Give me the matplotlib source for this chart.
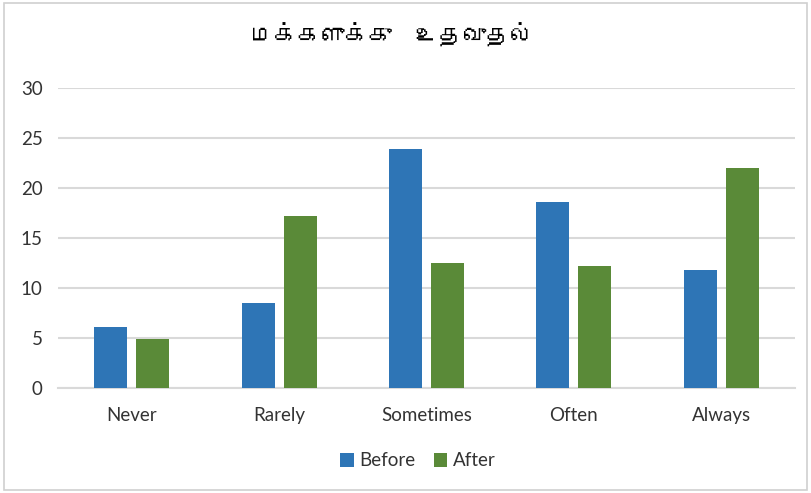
import numpy as np
import matplotlib
matplotlib.use("Agg")
import matplotlib.pyplot as plt
from matplotlib import font_manager
from matplotlib.ft2font import FT2Font
from matplotlib.patches import Rectangle

# chart data
title = "மக்களுக்கு  உதவுதல்"
categories = ["Never", "Rarely", "Sometimes", "Often", "Always"]
before = [6.1, 8.5, 23.9, 18.6, 11.8]
after = [4.9, 17.2, 12.5, 12.2, 22.0]
y_ticks = [0, 5, 10, 15, 20, 25, 30]


def find_tamil_font():
    # look for any installed font that has Tamil glyphs
    for f in font_manager.fontManager.ttflist:
        try:
            cmap = FT2Font(f.fname).get_charmap()
        except Exception:
            continue
        if 0x0BAE in cmap and 0x0B95 in cmap:
            return f.name
    return None


tamil = find_tamil_font()
title_family = [tamil, "DejaVu Sans"] if tamil else ["DejaVu Sans"]

plt.rcParams["font.family"] = ["Lato", "DejaVu Sans"]

fig = plt.figure(figsize=(8.11, 4.93), dpi=100)
ax = fig.add_axes([58 / 811, 105 / 493, 737 / 811, 300 / 493])

x = np.arange(len(categories))
w = 0.224
off = 0.142
ax.bar(x - off, before, width=w, color="#2E75B6", label="Before", zorder=3)
ax.bar(x + off, after, width=w, color="#5A8A38", label="After", zorder=3)

ax.set_xlim(-0.5, len(categories) - 0.5)
ax.set_ylim(0, 30)
ax.set_yticks(y_ticks)
ax.set_xticks(x)
ax.set_xticklabels(categories)
ax.tick_params(axis="both", length=0, labelsize=13.5, colors="#333333")
ax.tick_params(axis="y", pad=11)
ax.tick_params(axis="x", pad=14)
ax.grid(axis="y", color="#D9D9D9", linewidth=1.5, zorder=0)
for side in ["top", "right", "left"]:
    ax.spines[side].set_visible(False)
ax.spines["bottom"].set_color("#D9D9D9")
ax.spines["bottom"].set_linewidth(1.5)

fig.text(392 / 811, 1 - 35 / 493, title, ha="center", va="center",
         fontsize=17, family=title_family, color="#000000")

ax.legend(loc="center", bbox_to_anchor=(418 / 811, 32 / 493),
          bbox_transform=fig.transFigure, ncol=2, frameon=False,
          fontsize=13.5, handlelength=0.7, handleheight=0.7,
          handletextpad=0.3, columnspacing=1.0, labelcolor="#333333")

# thin border round the chart area
fig.patches.append(Rectangle((4 / 811, 3 / 493), 803 / 811, 487 / 493,
                             transform=fig.transFigure, fill=False,
                             edgecolor="#D0D0D0", linewidth=1.2))

fig.savefig("out.png", dpi=100)
